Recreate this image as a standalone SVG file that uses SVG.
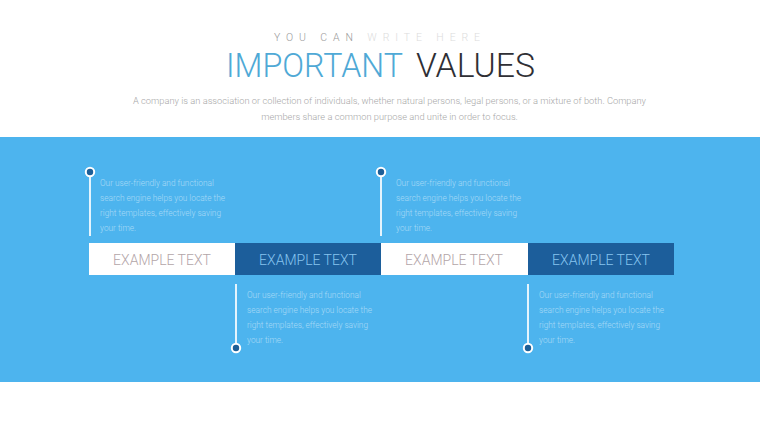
<svg xmlns="http://www.w3.org/2000/svg" width="760" height="428" viewBox="0 0 760 428">
<style>
.body{font-family:Roboto,"Liberation Sans",sans-serif;font-weight:300;font-size:8.3px;fill:#ffffff;fill-opacity:0.5}
.lbl{font-family:Roboto,"Liberation Sans",sans-serif;font-weight:300;font-size:14px;text-anchor:middle}
.stem{stroke:#ffffff;stroke-opacity:0.85;stroke-width:2}
.dot{fill:#1d5f97;stroke:#ffffff;stroke-width:2}
.sub{font-family:Roboto,"Liberation Sans",sans-serif;font-weight:300;font-size:9.3px;fill:#a8a8a8;text-anchor:middle}
</style>
<rect width="760" height="428" fill="#ffffff"/>
<g id="header">
<text x="380" y="41" font-family="Roboto,'Liberation Sans',sans-serif" font-size="10.5" font-weight="300" text-anchor="middle" letter-spacing="5.9"><tspan fill="#9a9a9a">YOU CAN </tspan><tspan fill="#dcdcdc">WRITE HERE</tspan></text>
<text x="226" y="77" font-family="Roboto,'Liberation Sans',sans-serif" font-size="33" font-weight="300" fill="#4fa9d6" textLength="177" lengthAdjust="spacingAndGlyphs">IMPORTANT</text>
<text x="416" y="77" font-family="Roboto,'Liberation Sans',sans-serif" font-size="33" font-weight="300" fill="#2f2f35" textLength="119" lengthAdjust="spacingAndGlyphs">VALUES</text>
<text class="sub" x="389.5" y="104">A company is an association or collection of individuals, whether natural persons, legal persons, or a mixture of both. Company</text>
<text class="sub" x="389.5" y="120">members share a common purpose and unite in order to focus.</text>
</g>
<rect id="band" x="0" y="137" width="760" height="245" fill="#4db4ee"/>
<g id="connectors">
<line class="stem" x1="90" y1="172" x2="90" y2="236"/>
<line class="stem" x1="381" y1="172" x2="381" y2="236"/>
<line class="stem" x1="236" y1="284" x2="236" y2="348"/>
<line class="stem" x1="528" y1="284" x2="528" y2="348"/>
</g>
<g id="node1">
<rect x="89" y="243" width="146" height="32" fill="#ffffff"/>
<text class="lbl" x="162" y="265" fill="#b3a5a8">EXAMPLE TEXT</text>
<circle class="dot" cx="90" cy="172" r="4.2"/>
<text class="body" x="100" y="186">Our user-friendly and functional</text>
<text class="body" x="100" y="201">search engine helps you locate the</text>
<text class="body" x="100" y="216">right templates, effectively saving</text>
<text class="body" x="100" y="231">your time.</text>
</g>
<g id="node2">
<rect x="235" y="243" width="146" height="32" fill="#1c5e9b"/>
<text class="lbl" x="308" y="265" fill="#86c4ef">EXAMPLE TEXT</text>
<circle class="dot" cx="236" cy="348" r="4.2"/>
<text class="body" x="247" y="298">Our user-friendly and functional</text>
<text class="body" x="247" y="313">search engine helps you locate the</text>
<text class="body" x="247" y="328">right templates, effectively saving</text>
<text class="body" x="247" y="343">your time.</text>
</g>
<g id="node3">
<rect x="381" y="243" width="147" height="32" fill="#ffffff"/>
<text class="lbl" x="454" y="265" fill="#b3a5a8">EXAMPLE TEXT</text>
<circle class="dot" cx="381" cy="172" r="4.2"/>
<text class="body" x="396" y="186">Our user-friendly and functional</text>
<text class="body" x="396" y="201">search engine helps you locate the</text>
<text class="body" x="396" y="216">right templates, effectively saving</text>
<text class="body" x="396" y="231">your time.</text>
</g>
<g id="node4">
<rect x="528" y="243" width="146" height="32" fill="#1c5e9b"/>
<text class="lbl" x="601" y="265" fill="#86c4ef">EXAMPLE TEXT</text>
<circle class="dot" cx="528" cy="348" r="4.2"/>
<text class="body" x="539" y="298">Our user-friendly and functional</text>
<text class="body" x="539" y="313">search engine helps you locate the</text>
<text class="body" x="539" y="328">right templates, effectively saving</text>
<text class="body" x="539" y="343">your time.</text>
</g>
</svg>
